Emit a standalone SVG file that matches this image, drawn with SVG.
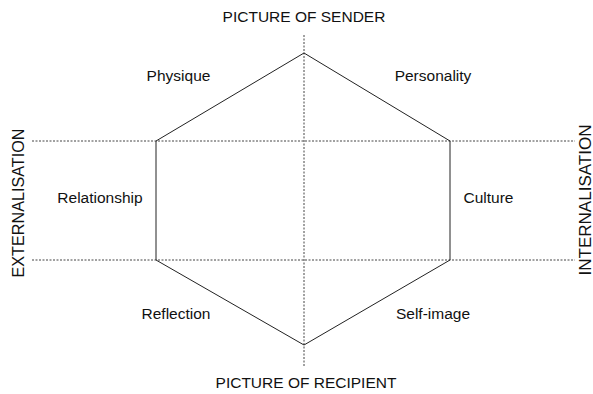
<svg xmlns="http://www.w3.org/2000/svg" width="593" height="394" viewBox="0 0 593 394">
<style>
text{font-family:"Liberation Sans",Arial,sans-serif;font-size:15.5px;fill:#111;text-anchor:middle}
.side{font-size:16px}
.axis{stroke:#444;stroke-width:1;stroke-dasharray:2 1.5;fill:none}
.hex{stroke:#222;stroke-width:1;fill:none}
</style>
<rect width="593" height="394" fill="#fff"/>
<g id="axes">
<line class="axis" x1="32" y1="141" x2="575" y2="141"/>
<line class="axis" x1="32" y1="260" x2="575" y2="260"/>
<line class="axis" x1="304" y1="35" x2="304" y2="367"/>
</g>
<g id="connectors">
<polygon class="hex" points="304,53 450,141 450,260 304,345 156,260 156,141"/>
</g>
<g id="sender"><text x="304" y="22">PICTURE OF SENDER</text></g>
<g id="recipient"><text x="306" y="388">PICTURE OF RECIPIENT</text></g>
<g id="externalisation"><text class="side" transform="translate(23.5,203) rotate(-90)" textLength="149" lengthAdjust="spacingAndGlyphs">EXTERNALISATION</text></g>
<g id="internalisation"><text class="side" transform="translate(590.5,200) rotate(-90)" textLength="151" lengthAdjust="spacingAndGlyphs">INTERNALISATION</text></g>
<g id="physique"><text x="178.5" y="81">Physique</text></g>
<g id="personality"><text x="433" y="81">Personality</text></g>
<g id="relationship"><text x="100" y="203">Relationship</text></g>
<g id="culture"><text x="488.5" y="203">Culture</text></g>
<g id="reflection"><text x="176" y="319">Reflection</text></g>
<g id="selfimage"><text x="433" y="319">Self-image</text></g>
</svg>
